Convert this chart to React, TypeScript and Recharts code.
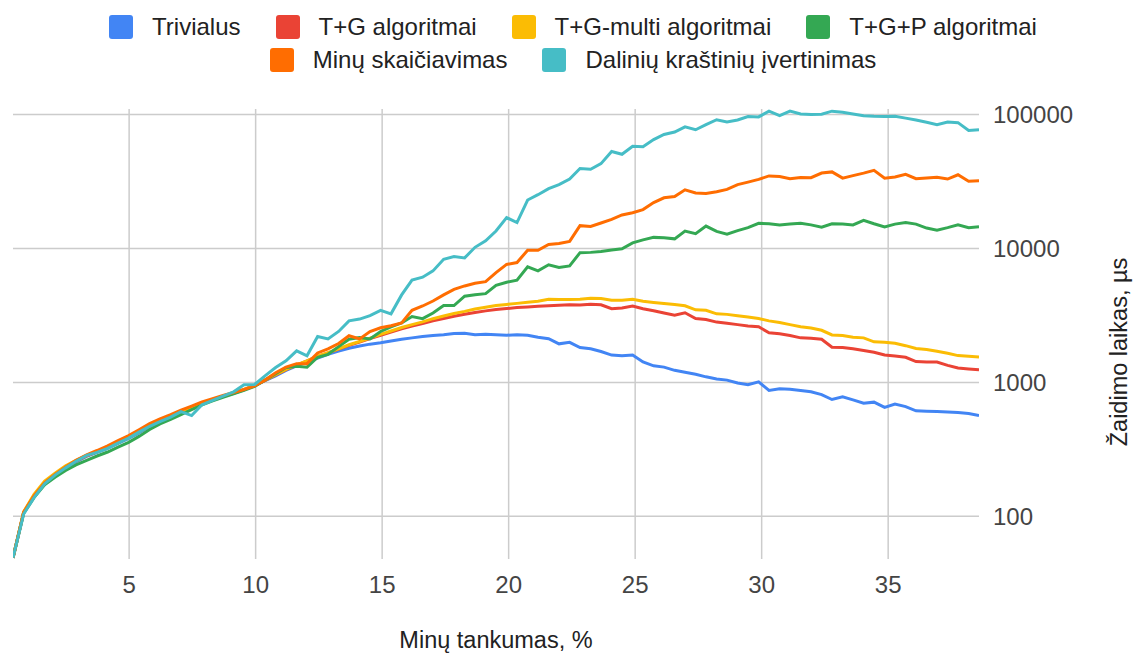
import React from 'react';
import { LineChart, Line, XAxis, YAxis, CartesianGrid, Legend } from 'recharts';

const xValues = [
  0.41, 0.83, 1.24, 1.66, 2.07, 2.49, 2.9, 3.32, 3.73, 4.15,
  4.56, 4.98, 5.39, 5.81, 6.22, 6.64, 7.05, 7.47, 7.88, 8.3,
  8.71, 9.13, 9.54, 9.96, 10.37, 10.79, 11.2, 11.62, 12.03, 12.45,
  12.86, 13.28, 13.69, 14.11, 14.52, 14.94, 15.35, 15.77, 16.18, 16.6,
  17.01, 17.43, 17.84, 18.26, 18.67, 19.09, 19.5, 19.92, 20.33, 20.75,
  21.16, 21.58, 21.99, 22.41, 22.82, 23.24, 23.65, 24.07, 24.48, 24.9,
  25.31, 25.73, 26.14, 26.56, 26.97, 27.39, 27.8, 28.22, 28.63, 29.05,
  29.46, 29.88, 30.29, 30.71, 31.12, 31.54, 31.95, 32.37, 32.78, 33.2,
  33.61, 34.03, 34.44, 34.86, 35.27, 35.69, 36.1, 36.52, 36.93, 37.35,
  37.76, 38.18, 38.59,
];

const trivialus = [
  49, 106, 140, 174, 200, 228, 255, 280, 300, 322,
  350, 382, 420, 468, 510, 550, 595, 640, 695, 740,
  785, 830, 880, 945, 1030, 1120, 1230, 1330, 1420, 1520,
  1620, 1710, 1800, 1870, 1930, 1980, 2040, 2100, 2150, 2200,
  2240, 2270, 2320, 2330, 2270, 2290, 2270, 2250, 2270, 2250,
  2170, 2120, 1940, 1990, 1820, 1780, 1700, 1600, 1580, 1600,
  1420, 1330, 1300, 1230, 1190, 1150, 1100, 1060, 1040, 990,
  960, 1010, 870, 895, 890, 870, 850, 810, 745, 780,
  740, 700, 712, 650, 690, 660, 613, 610, 606, 602,
  595, 585, 566,
];

const tgAlgoritmai = [
  49, 107, 143, 178, 205, 232, 258, 283, 303, 326,
  354, 386, 426, 472, 515, 553, 598, 643, 698, 743,
  788, 832, 882, 948, 1035, 1135, 1245, 1345, 1445, 1560,
  1660, 1770, 1890, 2000, 2120, 2250, 2380, 2510, 2630, 2750,
  2880, 3000, 3120, 3230, 3330, 3420, 3500, 3560, 3620, 3660,
  3700, 3740, 3770, 3800, 3780, 3830, 3800, 3550, 3600, 3720,
  3550, 3430, 3300, 3180, 3310, 3000, 2950, 2820, 2760, 2700,
  2640, 2600, 2350, 2310, 2240, 2150, 2140, 2100, 1830, 1820,
  1780, 1730, 1680, 1600, 1575, 1540, 1430, 1420, 1420, 1340,
  1280, 1260, 1240,
];

const tgMulti = [
  49, 108, 146, 183, 210, 238, 262, 285, 305, 328,
  356, 388, 428, 475, 518, 556, 600, 645, 700, 745,
  790, 835, 885, 950, 1040, 1140, 1250, 1350, 1450, 1570,
  1670, 1780, 1910, 2020, 2140, 2280, 2420, 2570, 2700, 2830,
  2990, 3130, 3270, 3390, 3530, 3640, 3750, 3820, 3890, 3960,
  4040, 4170, 4160, 4150, 4170, 4250, 4230, 4100, 4100, 4170,
  4030, 3950, 3880, 3820, 3730, 3480, 3450, 3250, 3220, 3150,
  3080, 3000, 2880, 2800, 2700, 2600, 2550, 2450, 2260, 2240,
  2170, 2150, 2010, 1990, 1960, 1880, 1790, 1760, 1710, 1650,
  1585, 1570, 1550,
];

const tgpAlgoritmai = [
  49, 105, 138, 172, 196, 220, 242, 262, 282, 302,
  328, 357, 395, 445, 490, 530, 575, 625, 680, 728,
  775, 822, 872, 935, 1040, 1160, 1290, 1320, 1300, 1540,
  1620, 1850, 2100, 2160, 2110, 2400, 2600, 2780, 3100, 2990,
  3300, 3750, 3750, 4400, 4520, 4600, 5300, 5600, 5800, 7300,
  6800, 7550, 7200, 7400, 9300, 9350, 9500, 9750, 9950, 11000,
  11600, 12100, 12000, 11800, 13500, 12900, 14700, 13400, 12800, 13600,
  14300, 15400, 15300, 15000, 15200, 15400, 15000, 14400, 15300, 15200,
  15000, 16200, 15300, 14500, 15200, 15600, 15200, 14200, 13700, 14300,
  15000, 14300, 14500,
];

const minuSkaiciavimas = [
  49, 107, 142, 178, 205, 233, 262, 288, 310, 336,
  368, 400, 442, 492, 535, 575, 620, 665, 715, 755,
  798, 840, 885, 940, 1040, 1180, 1300, 1380, 1380, 1660,
  1780, 1950, 2230, 2110, 2400, 2560, 2650, 2780, 3450, 3720,
  4050, 4500, 4950, 5250, 5500, 5650, 6600, 7600, 7850, 9700,
  9700, 10700, 10900, 11300, 14800, 14600, 15500, 16500, 17800, 18500,
  19500, 22000, 23900, 24400, 27400, 26000, 25700, 26500, 27600, 30000,
  31300, 32800, 34800, 34500, 33200, 33900, 33800, 36600, 37300, 33500,
  35000, 36500, 38300, 33500, 34200, 35800, 33200, 33600, 34000, 33000,
  35500, 31800, 32000,
];

const daliniuKrastiniu = [
  49, 104, 138, 175, 203, 230, 258, 285, 300, 322,
  352, 384, 425, 470, 510, 550, 605, 565, 680, 735,
  790, 850, 960, 965, 1120, 1290, 1450, 1720, 1580, 2200,
  2110, 2400, 2880, 2970, 3150, 3450, 3250, 4500, 5800, 6100,
  6800, 8300, 8700, 8500, 10200, 11400, 13500, 17000, 15600, 23000,
  25200, 28000, 30000, 33000, 39500, 39000, 43000, 53000, 50500, 58000,
  57500, 65000, 71000, 74000, 81000, 77000, 84000, 91500, 88000, 91000,
  96500, 96000, 106000, 98000, 106000, 101000, 100000, 100500, 106000, 104000,
  101000, 98000, 97000, 96500, 97000, 94000, 91000, 87500, 84000, 88000,
  87000, 76000, 77000,
];

const seriesNames = [
  'Trivialus',
  'T+G algoritmai',
  'T+G-multi algoritmai',
  'T+G+P algoritmai',
  'Minų skaičiavimas',
  'Dalinių kraštinių įvertinimas',
];
const seriesKeys = ['s0', 's1', 's2', 's3', 's4', 's5'];
const seriesColors = ['#4285F4', '#EA4335', '#FBBC04', '#34A853', '#FF6D01', '#46BDC6'];
const seriesValues = [trivialus, tgAlgoritmai, tgMulti, tgpAlgoritmai, minuSkaiciavimas, daliniuKrastiniu];

const xTicks = [5, 10, 15, 20, 25, 30, 35];
const yTicks = [100, 1000, 10000, 100000];
const xTitle = 'Minų tankumas, %';
const yTitle = 'Žaidimo laikas, µs';

const data = xValues.map((x, i) => {
  const row: Record<string, number> = { x };
  seriesKeys.forEach((k, j) => {
    row[k] = seriesValues[j][i];
  });
  return row;
});

const FONT = '"Liberation Sans", Arial, sans-serif';

const renderLegend = () => {
  const rows = [[0, 1, 2, 3], [4, 5]];
  return (
    <div style={{ paddingTop: 15, paddingLeft: 12, fontFamily: FONT, fontSize: 24, color: '#222' }}>
      {rows.map((row, ri) => (
        <div
          key={ri}
          style={{ display: 'flex', justifyContent: 'center', gap: 35, height: 24, marginBottom: 9 }}
        >
          {row.map((i) => (
            <div key={i} style={{ display: 'flex', alignItems: 'center' }}>
              <span
                style={{
                  display: 'inline-block',
                  width: 24,
                  height: 24,
                  borderRadius: 3,
                  background: seriesColors[i],
                  marginRight: 19,
                }}
              />
              <span style={{ lineHeight: '24px', whiteSpace: 'nowrap' }}>{seriesNames[i]}</span>
            </div>
          ))}
        </div>
      ))}
    </div>
  );
};

const YTitle = (props: any) => {
  const vb = props.viewBox || { x: 979, y: 109, width: 155, height: 450 };
  const cx = vb.x + vb.width - 7;
  const cy = vb.y + vb.height / 2 + 18;
  return (
    <text
      x={cx}
      y={cy}
      transform={`rotate(-90 ${cx} ${cy})`}
      textAnchor="middle"
      fill="#222"
      fontSize={23.5}
      fontFamily={FONT}
    >
      {yTitle}
    </text>
  );
};

export default function App() {
  return (
    <div style={{ position: 'absolute', left: 0, top: 0, width: 1134, height: 654, background: '#fff' }}>
      <LineChart
        width={1134}
        height={654}
        data={data}
        margin={{ top: 109, right: 0, left: 13, bottom: 0 }}
        style={{ fontFamily: FONT }}
      >
        <CartesianGrid stroke="#cccccc" strokeWidth={1.5} syncWithTicks />
        <XAxis
          dataKey="x"
          type="number"
          domain={[0.41, 38.59]}
          ticks={xTicks}
          allowDataOverflow
          axisLine={false}
          tickLine={false}
          tickSize={0}
          tickMargin={17}
          height={95}
          tick={{ fill: '#444', fontSize: 24, fontFamily: FONT }}
          label={{
            value: xTitle,
            position: 'insideBottom',
            offset: 6,
            fill: '#222',
            fontSize: 23.5,
            fontFamily: FONT,
          }}
        />
        <YAxis
          orientation="right"
          type="number"
          scale="log"
          domain={[48, 110000]}
          allowDataOverflow
          ticks={yTicks}
          axisLine={false}
          tickLine={false}
          tickSize={0}
          tickMargin={14}
          width={155}
          tick={{ fill: '#444', fontSize: 24, fontFamily: FONT }}
          label={<YTitle />}
        />
        <Legend
          content={renderLegend}
          verticalAlign="middle"
          layout="horizontal"
          align="center"
          wrapperStyle={{ top: 0, left: 0, width: 1134 }}
        />
        {seriesKeys.map((k, i) => (
          <Line
            key={k}
            dataKey={k}
            name={seriesNames[i]}
            stroke={seriesColors[i]}
            strokeWidth={3}
            dot={false}
            activeDot={false}
            type="linear"
            isAnimationActive={false}
          />
        ))}
      </LineChart>
    </div>
  );
}
